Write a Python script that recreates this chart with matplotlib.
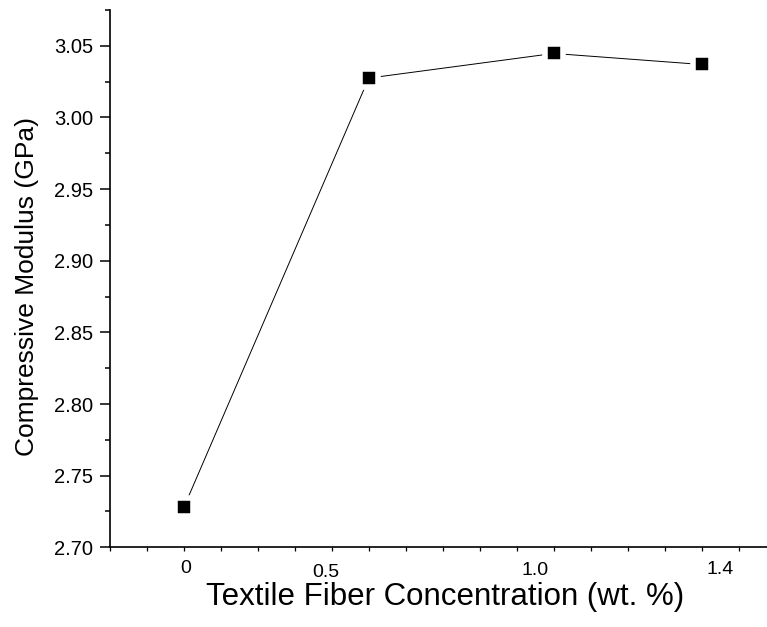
import matplotlib
matplotlib.use("Agg")
import matplotlib.pyplot as plt
from matplotlib.ticker import MultipleLocator, NullFormatter

plt.rcParams['font.family'] = ['Liberation Sans', 'DejaVu Sans']

# fiber loading (wt. %) vs compressive modulus (GPa)
concentration = [0.0, 0.5, 1.0, 1.4]
modulus = [2.728, 3.0275, 3.0447, 3.037]

# hand-placed category labels under the axis
label_text = ["0", "0.5", "1.0", "1.4"]
label_x = [0.005, 0.385, 0.95, 1.45]
label_y = [-0.040, -0.046, -0.043, -0.041]

fig = plt.figure(figsize=(7.67, 6.27), dpi=100)
ax = fig.add_axes([0.1434, 0.1271, 0.8566, 0.8569])

ax.plot(concentration, modulus, color='black', lw=0.7, zorder=2)
ax.plot(concentration, modulus, ls='none', marker='s', ms=12.5, mfc='black',
        mec='white', mew=4, zorder=3)

ax.set_xlim(-0.2, 1.577)
ax.set_ylim(2.70, 3.075)

ax.spines['top'].set_visible(False)
ax.spines['right'].set_visible(False)
for s in ('left', 'bottom'):
    ax.spines[s].set_linewidth(1.2)

ax.yaxis.set_major_locator(MultipleLocator(0.05))
ax.yaxis.set_minor_locator(MultipleLocator(0.025))
ax.yaxis.set_major_formatter(plt.FormatStrFormatter('%.2f'))
ax.tick_params(axis='y', which='major', direction='out', length=7, width=1.1,
               labelsize=14.5, pad=5)
ax.tick_params(axis='y', which='minor', direction='out', length=3.5, width=1.1)

ax.xaxis.set_major_locator(MultipleLocator(0.1))
ax.xaxis.set_major_formatter(NullFormatter())
ax.tick_params(axis='x', which='major', direction='out', length=3, width=0.9)

for t, x, y in zip(label_text, label_x, label_y):
    ax.text(x, y, t, transform=ax.get_xaxis_transform(), ha='center',
            va='center', fontsize=14)

ax.set_xlabel('Textile Fiber Concentration (wt. %)', fontsize=22.5)
ax.xaxis.set_label_coords(0.51, -0.064)
ax.set_ylabel('Compressive Modulus (GPa)', fontsize=19)
ax.yaxis.set_label_coords(-0.108, 0.4845)

fig.savefig('out.png', dpi=100)
